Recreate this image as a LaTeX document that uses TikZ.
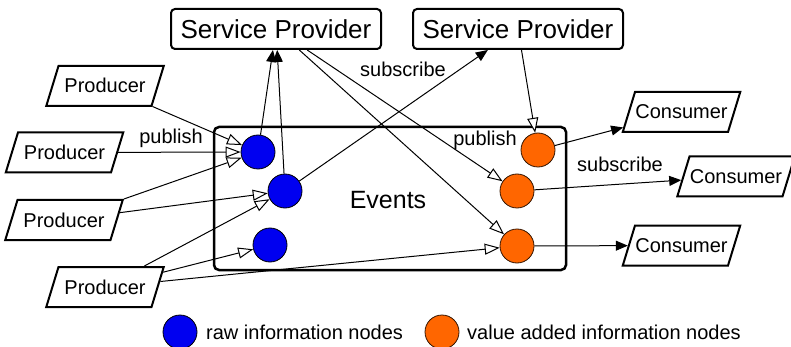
\documentclass[tikz,border=0pt]{standalone}
\usepackage{fontspec}
\setmainfont{Liberation Sans}
\usetikzlibrary{shapes.geometric,arrows.meta}
\definecolor{rawblue}{RGB}{0,0,240}
\definecolor{valorange}{RGB}{255,102,0}
\begin{document}
\begin{tikzpicture}[x=1pt,y=-1pt,
  para/.style={trapezium, trapezium left angle=73, trapezium right angle=107,
    draw, line width=2pt, text width=93pt, align=center,
    text height=14pt, text depth=0pt, inner ysep=13pt, inner xsep=0pt,
    font=\fontsize{20}{24}\selectfont},
  provider/.style={draw, line width=2pt, rounded corners=4pt, minimum width=210pt,
    minimum height=40pt, inner sep=0pt, font=\fontsize{26}{30}\selectfont},
  eventbox/.style={draw, line width=2.5pt, rounded corners=5pt, minimum width=352pt,
    minimum height=143pt, inner sep=0pt},
  rawnode/.style={circle, draw, line width=0.8pt, fill=rawblue, minimum size=34pt, inner sep=0pt},
  valnode/.style={circle, draw=black!80!valorange, line width=0.8pt, fill=valorange, minimum size=34pt, inner sep=0pt},
  lbl/.style={font=\fontsize{20}{24}\selectfont, inner sep=0pt},
  oarrow/.style={line width=1pt, -{Triangle[fill=white, length=15pt, width=11pt]}},
  farrow/.style={line width=1pt, -{Triangle[length=12pt, width=10pt]}}
]
\useasboundingbox (0,0) rectangle (791,347);
% events box
\node[eventbox] (ev) at (390,198.5) {};
\node[font=\fontsize{25}{30}\selectfont, inner sep=0pt] (evt) at (388,200) {Events};
% providers
\node[provider] (sp1) at (276,29) {Service Provider};
\node[provider] (sp2) at (518,29) {Service Provider};
% producers
\node[para] (p1) at (105,86) {Producer};
\node[para] (p2) at (64.5,152.5) {Producer};
\node[para] (p3) at (64,220) {Producer};
\node[para] (p4) at (105,287) {Producer};
% consumers
\node[para] (c1) at (681.5,112) {Consumer};
\node[para] (c2) at (736,176.5) {Consumer};
\node[para] (c3) at (681.5,245.5) {Consumer};
% information nodes
\node[rawnode] (b1) at (258,152) {};
\node[rawnode] (b2) at (285,191) {};
\node[rawnode] (b3) at (270,245) {};
\node[valnode] (o1) at (538,150) {};
\node[valnode] (o2) at (517,191) {};
\node[valnode] (o3) at (517,246) {};
% publish edges
\draw[oarrow] (p1) -- (b1);
\draw[oarrow] (p2) -- (b1);
\draw[oarrow] (p3) -- (b1);
\draw[oarrow] (p3) -- (b2);
\draw[oarrow] (p4) -- (b2);
\draw[oarrow] (p4) -- (b3);
\draw[oarrow] (p4) -- (o3);
\draw[oarrow] (sp1) -- (o2);
\draw[oarrow] (sp1) -- (o3);
\draw[oarrow] (sp2) -- (o1);
% subscribe edges
\draw[farrow] (b1) -- (sp1);
\draw[farrow] (b2) -- (sp1);
\draw[farrow] (b2) -- (sp2);
\draw[farrow] (o1) -- (c1);
\draw[farrow] (o2) -- (c2);
\draw[farrow] (o3) -- (c3);
% labels
\node[lbl] (l1) at (171,138) {publish};
\node[lbl] (l2) at (403,69) {subscribe};
\node[lbl] (l3) at (485,140) {publish};
\node[lbl] (l4) at (620,164) {subscribe};
% legend
\node[rawnode] (lb) at (180,332) {};
\node[lbl, anchor=west] (lbt) at (206,332) {raw information nodes};
\node[valnode] (lo) at (442,332) {};
\node[lbl, anchor=west] (lot) at (467,332) {value added information nodes};
\end{tikzpicture}
\end{document}
